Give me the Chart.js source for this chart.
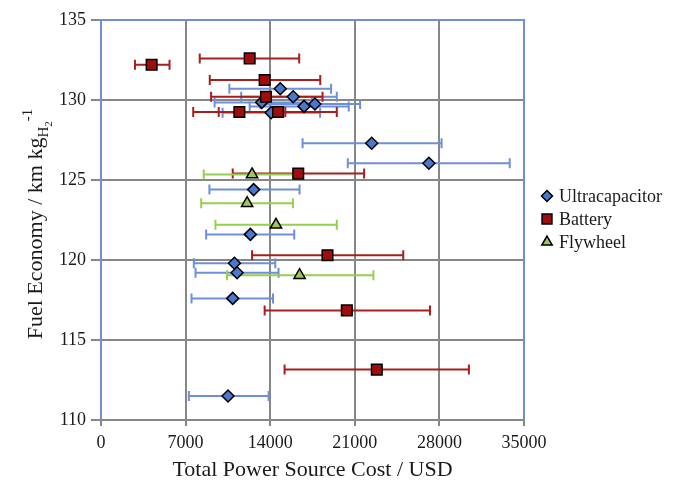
<!DOCTYPE html>
<html>
<head>
<meta charset="utf-8">
<script src="https://cdn.jsdelivr.net/npm/chart.js@4.4.1/dist/chart.umd.min.js"></script>
<style>
  html, body { margin: 0; padding: 0; background: #fff; }
  canvas { display: block; }
</style>
</head>
<body>
<canvas id="fuelChart" width="683" height="485"></canvas>
<script>
// axis ticks
const xTicks = [0, 7000, 14000, 21000, 28000, 35000];
const yTicks = [110, 115, 120, 125, 130, 135];

// Ultracapacitor: cost, fuel economy, cost range
const ucapCost = [14830, 15900, 13300, 16800, 17700, 14080, 22400, 27130, 12630, 12360, 11040, 11260, 10900, 10510];
const ucapFuel = [130.7, 130.2, 129.85, 129.6, 129.75, 129.2, 127.3, 126.05, 124.4, 121.6, 119.8, 119.2, 117.6, 111.5];
const ucapLow  = [10620, 11600, 9400, 12300, 13200, 10060, 16680, 20420, 8970, 8700, 7680, 7820, 7490, 7270];
const ucapHigh = [19040, 19510, 17450, 20500, 21440, 18130, 28180, 33820, 16430, 15990, 14420, 14690, 14230, 13870];

// Battery
const battCost = [4190, 12300, 13540, 13650, 11450, 14650, 16320, 18740, 20340, 22820];
const battFuel = [132.2, 132.6, 131.25, 130.2, 129.25, 129.25, 125.4, 120.3, 116.85, 113.15];
const battLow  = [2810, 8170, 9000, 9110, 7630, 9740, 10900, 12500, 13540, 15190];
const battHigh = [5670, 16400, 18140, 18330, 15250, 19510, 21770, 25010, 27220, 30440];

// Flywheel
const flyCost = [12500, 12090, 14480, 16430];
const flyFuel = [125.35, 123.55, 122.2, 119.05];
const flyLow  = [8500, 8290, 9470, 10430];
const flyHigh = [15930, 15880, 19510, 22540];

function points(cost, fuel, low, high) {
  return cost.map((c, i) => ({x: c, y: fuel[i], xMin: low[i], xMax: high[i]}));
}

const serif = 'Liberation Serif';

// horizontal error bars, drawn under the markers
const errorBars = {
  id: 'errorBars',
  beforeDatasetsDraw(chart) {
    const {ctx, scales: {x, y}} = chart;
    chart.data.datasets.forEach(ds => {
      ctx.save();
      ctx.strokeStyle = ds.barColor;
      ctx.lineWidth = 2;
      ds.data.forEach(p => {
        const py = y.getPixelForValue(p.y);
        const x1 = x.getPixelForValue(p.xMin);
        const x2 = x.getPixelForValue(p.xMax);
        ctx.beginPath();
        ctx.moveTo(x1, py); ctx.lineTo(x2, py);
        ctx.moveTo(x1, py - 5); ctx.lineTo(x1, py + 5);
        ctx.moveTo(x2, py - 5); ctx.lineTo(x2, py + 5);
        ctx.stroke();
      });
      ctx.restore();
    });
  }
};

// blue plot-area frame (bottom stays grey like the axis)
const frame = {
  id: 'frame',
  beforeDatasetsDraw(chart) {
    const {ctx, chartArea: a} = chart;
    ctx.save();
    ctx.strokeStyle = '#6f8fd8';
    ctx.lineWidth = 2;
    ctx.beginPath();
    ctx.moveTo(a.left, a.bottom);
    ctx.lineTo(a.left, a.top);
    ctx.lineTo(a.right, a.top);
    ctx.lineTo(a.right, a.bottom);
    ctx.stroke();
    ctx.restore();
  }
};

// y title with sub/superscripts
const yTitle = {
  id: 'yTitle',
  afterDraw(chart) {
    const {ctx, chartArea: a} = chart;
    const parts = [
      {t: 'Fuel Economy / km kg', size: 22, dy: 0},
      {t: 'H', size: 15, dy: 6},
      {t: '2', size: 11, dy: 10},
      {t: '-1', size: 15, dy: -10}
    ];
    ctx.save();
    ctx.fillStyle = '#1a1a1a';
    ctx.textBaseline = 'alphabetic';
    let total = 0;
    parts.forEach(p => {
      ctx.font = p.size + 'px "' + serif + '"';
      p.w = ctx.measureText(p.t).width;
      total += p.w;
    });
    ctx.translate(42, (a.top + a.bottom) / 2 + 4);
    ctx.rotate(-Math.PI / 2);
    let cx = -total / 2;
    parts.forEach(p => {
      ctx.font = p.size + 'px "' + serif + '"';
      ctx.fillText(p.t, cx, p.dy);
      cx += p.w;
    });
    ctx.restore();
  }
};

// legend on the right
const sideLegend = {
  id: 'sideLegend',
  afterDraw(chart) {
    const {ctx} = chart;
    const legendOrder = [0, 1, 2];
    ctx.save();
    ctx.font = '18px "' + serif + '"';
    ctx.textBaseline = 'middle';
    legendOrder.forEach((idx, i) => {
      const ds = chart.data.datasets[idx];
      const ly = 196 + i * 23;
      ctx.fillStyle = ds.backgroundColor;
      ctx.strokeStyle = '#000';
      ctx.lineWidth = 1.5;
      Chart.helpers.drawPoint(ctx, {pointStyle: ds.pointStyle, radius: ds.legendRadius, rotation: 0, borderWidth: 1.5}, 547, ly);
      ctx.fillStyle = '#1a1a1a';
      ctx.fillText(ds.label, 559, ly + 1);
    });
    ctx.restore();
  }
};

new Chart(document.getElementById('fuelChart'), {
  type: 'scatter',
  data: {
    datasets: [
      {
        label: 'Ultracapacitor',
        data: points(ucapCost, ucapFuel, ucapLow, ucapHigh),
        pointStyle: 'rectRot',
        pointRadius: 6,
        legendRadius: 5.5,
        backgroundColor: '#4a78cf',
        borderColor: '#000',
        borderWidth: 1.5,
        barColor: '#6d8fdc',
        order: 1
      },
      {
        label: 'Battery',
        data: points(battCost, battFuel, battLow, battHigh),
        pointStyle: 'rect',
        pointRadius: 7.5,
        legendRadius: 7,
        backgroundColor: '#a00d0d',
        borderColor: '#000',
        borderWidth: 1.5,
        barColor: '#a81e1e',
        order: 0
      },
      {
        label: 'Flywheel',
        data: points(flyCost, flyFuel, flyLow, flyHigh),
        pointStyle: 'triangle',
        pointRadius: 6.5,
        legendRadius: 6,
        backgroundColor: '#a3c45a',
        borderColor: '#000',
        borderWidth: 1.5,
        barColor: '#95cf4e',
        order: 2
      }
    ]
  },
  options: {
    responsive: false,
    animation: false,
    layout: { padding: { top: 20, right: 159, bottom: 0, left: 0 } },
    plugins: {
      legend: { display: false },
      tooltip: { enabled: false }
    },
    scales: {
      x: {
        type: 'linear',
        min: xTicks[0],
        max: xTicks[xTicks.length - 1],
        afterBuildTicks: axis => { axis.ticks = xTicks.map(v => ({value: v})); },
        afterFit: axis => { axis.height = 65; },
        grid: { color: '#878787', lineWidth: 2, tickLength: 6 },
        border: { color: '#878787', width: 2 },
        ticks: {
          font: { family: serif, size: 18 },
          color: '#1a1a1a',
          padding: 6,
          maxRotation: 0,
          callback: v => String(v)
        },
        title: {
          display: true,
          text: 'Total Power Source Cost / USD',
          font: { family: serif, size: 22 },
          color: '#1a1a1a',
          padding: { top: 2, bottom: 2 }
        }
      },
      y: {
        type: 'linear',
        min: yTicks[0],
        max: yTicks[yTicks.length - 1],
        afterBuildTicks: axis => { axis.ticks = yTicks.map(v => ({value: v})); },
        afterFit: axis => { axis.width = 101; },
        grid: { color: '#878787', lineWidth: 2, tickLength: 10 },
        border: { color: '#878787', width: 2 },
        ticks: {
          font: { family: serif, size: 18 },
          color: '#1a1a1a',
          padding: 5,
          callback: v => String(v)
        }
      }
    }
  },
  plugins: [errorBars, frame, yTitle, sideLegend]
});
</script>
</body>
</html>
